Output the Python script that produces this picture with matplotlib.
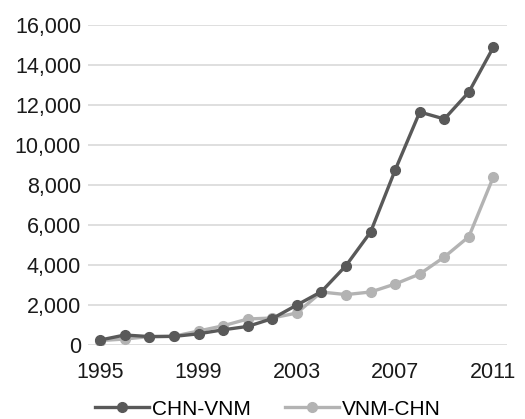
import matplotlib.pyplot as plt
from matplotlib.ticker import FuncFormatter

plt.rcParams['font.family'] = ['Liberation Sans', 'DejaVu Sans']

years = list(range(1995, 2012))
chn_vnm = [250, 500, 420, 430, 560, 760, 930, 1320, 2000, 2670, 3970, 5650, 8750, 11650, 11300, 12650, 14900]
vnm_chn = [220, 300, 420, 440, 700, 960, 1300, 1350, 1600, 2650, 2520, 2650, 3050, 3550, 4400, 5420, 8420]
xticks = [1995, 1999, 2003, 2007, 2011]
yticks = [0, 2000, 4000, 6000, 8000, 10000, 12000, 14000, 16000]

dark = '#595959'
light = '#b3b3b3'

fig = plt.figure(figsize=(5.25, 4.19), dpi=100)
ax = fig.add_axes([88/525, 74/419, (507-88)/525, (345-25)/419])

ax.plot(years, chn_vnm, color=dark, lw=2.4, marker='o', ms=7, label='CHN-VNM', zorder=3)
ax.plot(years, vnm_chn, color=light, lw=2.4, marker='o', ms=7, label='VNM-CHN', zorder=2)

ax.set_xlim(1994.5, 2011.55)
ax.set_ylim(0, 16000)
ax.set_xticks(xticks)
ax.set_yticks(yticks)
ax.yaxis.set_major_formatter(FuncFormatter(lambda v, p: f'{int(v):,}'))
ax.grid(axis='y', color='#d9d9d9', lw=1.2)
ax.set_axisbelow(True)
for s in ax.spines.values():
    s.set_visible(False)
ax.tick_params(length=0, labelsize=15.5, colors='#1a1a1a')
ax.tick_params(axis='y', pad=5)
ax.tick_params(axis='x', pad=12)

fig.legend(loc='center', bbox_to_anchor=(268/525, 10/419), ncol=2, frameon=False,
           fontsize=15, handlelength=2.6, handletextpad=0.15, columnspacing=1.6)

fig.savefig('out.png', dpi=100)
